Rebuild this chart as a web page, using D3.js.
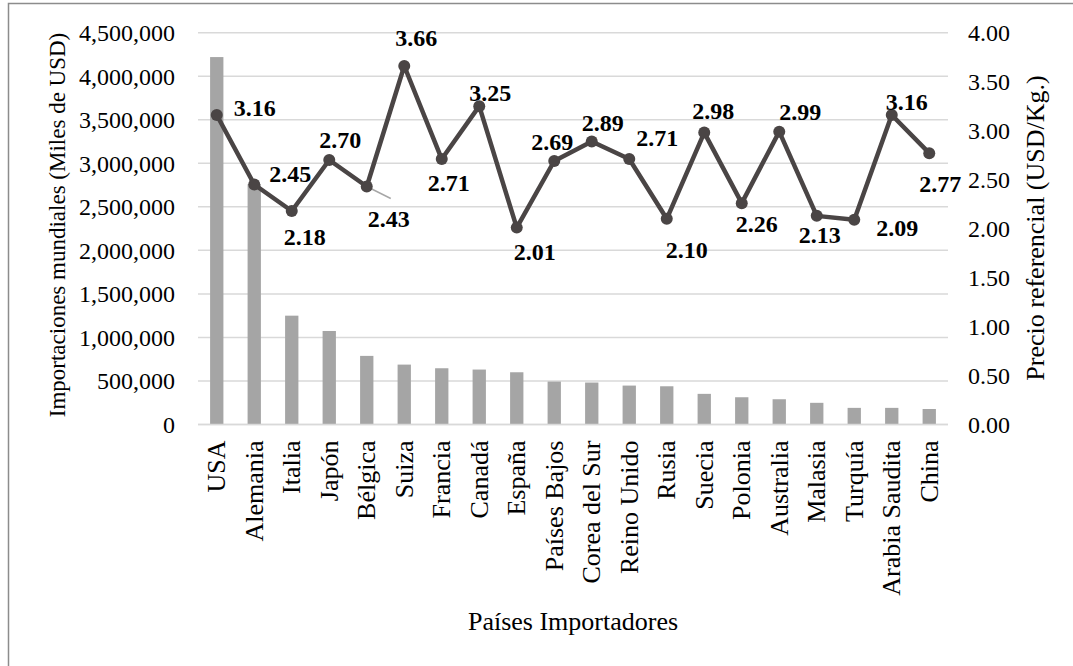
<!DOCTYPE html>
<html><head><meta charset="utf-8">
<script src="https://cdn.jsdelivr.net/npm/d3@7"></script>
<style>body{margin:0;background:#fff}svg{display:block}</style>
</head><body>
<svg id="c" width="1073" height="666"></svg>
<script>
const categories = ["USA","Alemania","Italia","Japón","Bélgica","Suiza","Francia","Canadá","España","Países Bajos","Corea del Sur","Reino Unido","Rusia","Suecia","Polonia","Australia","Malasia","Turquía","Arabia Saudita","China"];
const imports = [4220000,2760000,1250000,1074000,788000,688000,646000,631000,600000,493000,482000,447000,439000,352000,313000,290000,249000,191000,191000,178000];
const prices = [3.16,2.45,2.18,2.70,2.43,3.66,2.71,3.25,2.01,2.69,2.89,2.71,2.10,2.98,2.26,2.99,2.13,2.09,3.16,2.77];
const leftTicks = [0,500000,1000000,1500000,2000000,2500000,3000000,3500000,4000000,4500000];
const rightTicks = [0,0.5,1,1.5,2,2.5,3,3.5,4];
// label offsets (dx, dy of label centre relative to its point)
const labelOffsets = [[38,-7],[36,-11],[13,26],[11,-20],[22,32],[12,-28],[7,24],[11,-14],[18,24],[-2,-19],[11,-19],[28,-21],[20,31],[9,-22],[15,20],[21,-20],[3,19],[43,8],[15,-13],[11,30]];

const svg = d3.select("#c");
const FONT = "Liberation Serif";
const L = 198, R = 948, T = 32.7, B = 424.5;

svg.append("rect").attr("x",8.5).attr("y",3.5).attr("width",1100).attr("height",700)
  .attr("fill","none").attr("stroke","#8c8c8c").attr("stroke-width",1.5);

const x = d3.scaleBand().domain(categories).range([L,R]).paddingInner(0.645).paddingOuter(0.3225);
const yL = d3.scaleLinear().domain([0,4500000]).range([B,T]);
const yR = d3.scaleLinear().domain([0,4]).range([B,T]);

// gridlines
svg.append("g").selectAll("line").data(leftTicks).join("line")
  .attr("x1",L).attr("x2",R).attr("y1",d=>yL(d)).attr("y2",d=>yL(d))
  .attr("stroke","#d9d9d9").attr("stroke-width",1.5);

// left axis
const ax = d3.axisLeft(yL).tickValues(leftTicks).tickSize(0).tickPadding(0).tickFormat(d3.format(","));
const gL = svg.append("g").attr("transform",`translate(${L-23},0)`).call(ax);
gL.attr("font-family",FONT).attr("font-size",24);
gL.select(".domain").remove();
gL.selectAll("text").attr("fill","#000").attr("dy","0.33em");

const axR = d3.axisRight(yR).tickValues(rightTicks).tickSize(0).tickPadding(0).tickFormat(d3.format(".2f"));
const gR = svg.append("g").attr("transform",`translate(${R+20},0)`).call(axR);
gR.attr("font-family",FONT).attr("font-size",24);
gR.select(".domain").remove();
gR.selectAll("text").attr("fill","#000").attr("dy","0.33em");

// bars
svg.append("g").selectAll("rect").data(categories).join("rect")
  .attr("x",d=>x(d)).attr("width",x.bandwidth())
  .attr("y",(d,i)=>yL(imports[i])).attr("height",(d,i)=>B-yL(imports[i]))
  .attr("fill","#a5a5a5");

// baseline
svg.append("line").attr("x1",L).attr("x2",R).attr("y1",B).attr("y2",B).attr("stroke","#d9d9d9").attr("stroke-width",1.5);

// x labels
const xa = d3.axisBottom(x).tickSize(0).tickPadding(0);
const gX = svg.append("g").attr("transform",`translate(0,${B})`).call(xa);
gX.attr("font-family",FONT).attr("font-size",26);
gX.select(".domain").remove();
gX.selectAll("text").attr("fill","#000")
  .attr("transform","rotate(-90)").attr("text-anchor","end").attr("x",-16).attr("y",0).attr("dy","0.33em");

// line
const cx = d => x(d) + x.bandwidth()/2;
const line = d3.line().x((d,i)=>cx(categories[i])).y(d=>yR(d));
svg.append("path").datum(prices).attr("d",line).attr("fill","none")
  .attr("stroke","#4a4545").attr("stroke-width",4.5).attr("stroke-linejoin","round");

// leader line for Bélgica
const bi = 4;
svg.append("line").attr("x1",cx(categories[bi])+2).attr("y1",yR(prices[bi])+1)
  .attr("x2",cx(categories[bi])+24).attr("y2",yR(prices[bi])+12)
  .attr("stroke","#a6a6a6").attr("stroke-width",1.5);

svg.append("g").selectAll("circle").data(prices).join("circle")
  .attr("cx",(d,i)=>cx(categories[i])).attr("cy",d=>yR(d)).attr("r",6)
  .attr("fill","#4a4545");

svg.append("g").attr("font-family",FONT).attr("font-size",24).attr("font-weight","bold")
  .selectAll("text").data(prices).join("text")
  .attr("x",(d,i)=>cx(categories[i])+labelOffsets[i][0])
  .attr("y",(d,i)=>yR(d)+labelOffsets[i][1])
  .attr("dy","0.35em").attr("text-anchor","middle").attr("fill","#000")
  .text(d=>d3.format(".2f")(d));

// axis titles
svg.append("text").attr("transform",`translate(57,225) rotate(-90)`)
  .attr("text-anchor","middle").attr("dy","0.33em").attr("font-family",FONT).attr("font-size",23)
  .text("Importaciones mundiales (Miles de USD)");
svg.append("text").attr("transform",`translate(1035,228) rotate(-90)`)
  .attr("text-anchor","middle").attr("dy","0.33em").attr("font-family",FONT).attr("font-size",26)
  .text("Precio referencial (USD/Kg.)");
svg.append("text").attr("x",573).attr("y",621).attr("text-anchor","middle").attr("dy","0.33em")
  .attr("font-family",FONT).attr("font-size",26).text("Países Importadores");
</script>
</body></html>
